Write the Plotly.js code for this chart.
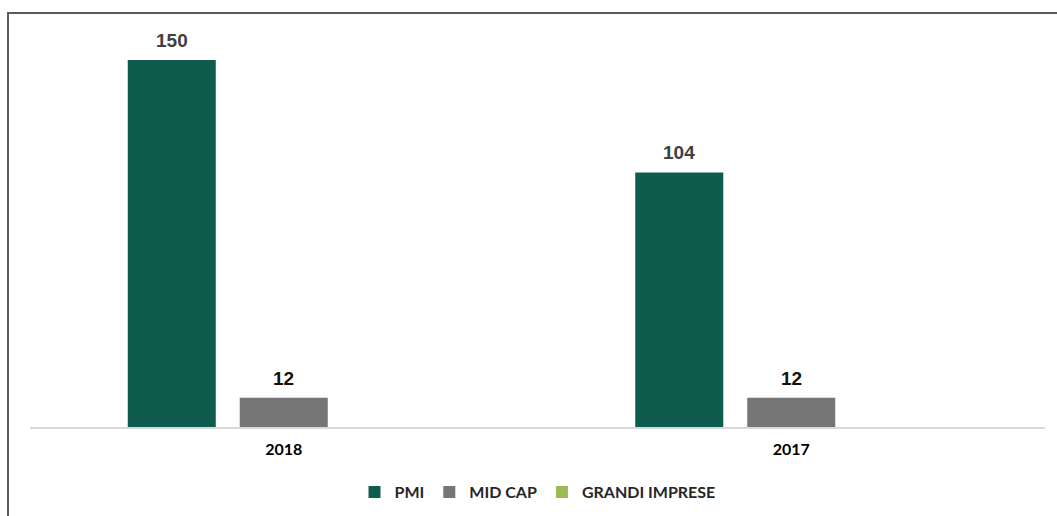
<!DOCTYPE html>
<html><head><meta charset="utf-8">
<script src="https://cdn.plot.ly/plotly-3.0.1.min.js"></script>
<style>
html,body{margin:0;padding:0;background:#fff;}
#wrap{position:relative;width:1057px;height:516px;}
#frame{position:absolute;left:7px;top:12px;right:-5px;bottom:-5px;border-left:2px solid #5a5a5a;border-top:2px solid #5a5a5a;pointer-events:none;}
#chart{position:absolute;left:0;top:0;width:1057px;height:516px;}
</style></head>
<body><div id="wrap"><div id="chart"></div><div id="frame"></div></div>
<script>
const categories = ['2018', '2017'];
const pmi = [150, 104];
const midCap = [12, 12];
const grandiImprese = [0, 0];
const seriesNames = ['PMI', 'MID CAP', 'GRANDI IMPRESE'];
const colors = ['#0e5c4e', '#767676', '#9bbb59'];
const labelColors = ['#404040', '#111111', '#404040'];

const all = [pmi, midCap, grandiImprese];
const traces = all.map((vals, i) => ({
  type: 'bar', name: seriesNames[i], x: categories, y: vals,
  marker: {color: colors[i]},
  hoverinfo: 'none'
}));

// data labels as annotations anchored to each bar's value (category index on x)
const W = 1057, ml = 30, mr = 12;
const catW = (W - ml - mr) / categories.length;
const bargap = 0.338;
const slot = catW * (1 - bargap) / all.length;
const annotations = [];
all.forEach((vals, i) => {
  vals.forEach((v, j) => {
    if (!v) return;
    annotations.push({
      x: j, y: v, xref: 'x', yref: 'y',
      xshift: (i - (all.length - 1) / 2) * slot,
      yanchor: 'bottom', yshift: 7, showarrow: false,
      text: String(v),
      font: {family: 'Liberation Sans, Arial, sans-serif', size: 19, color: labelColors[i], weight: 'bold'}
    });
  });
});

const layout = {
  width: W, height: 516,
  margin: {l: ml, r: mr, t: 20, b: 89},
  paper_bgcolor: '#ffffff', plot_bgcolor: '#ffffff',
  barmode: 'group', bargap: bargap, bargroupgap: 0.214,
  showlegend: true,
  legend: {orientation: 'h', x: 0.5, xanchor: 'center', y: 0.0465, yanchor: 'middle', yref: 'container',
    font: {family: 'Lato, Open Sans, sans-serif', size: 16, color: '#262626', weight: 'bold'},
    itemwidth: 30, traceorder: 'normal'},
  xaxis: {type: 'category', range: [-0.5, categories.length - 0.5], showline: true, linecolor: '#d9d9d9', linewidth: 1.5,
    ticks: 'outside', ticklen: 7, tickcolor: 'rgba(0,0,0,0)', showgrid: false,
    tickfont: {family: 'Lato, Open Sans, sans-serif', size: 16, color: '#000000', weight: 'bold'}},
  yaxis: {range: [0, 166.3], visible: false, showgrid: false, zeroline: false},
  annotations: annotations
};
Plotly.newPlot('chart', traces, layout, {displayModeBar: false, staticPlot: true});
</script></body></html>
